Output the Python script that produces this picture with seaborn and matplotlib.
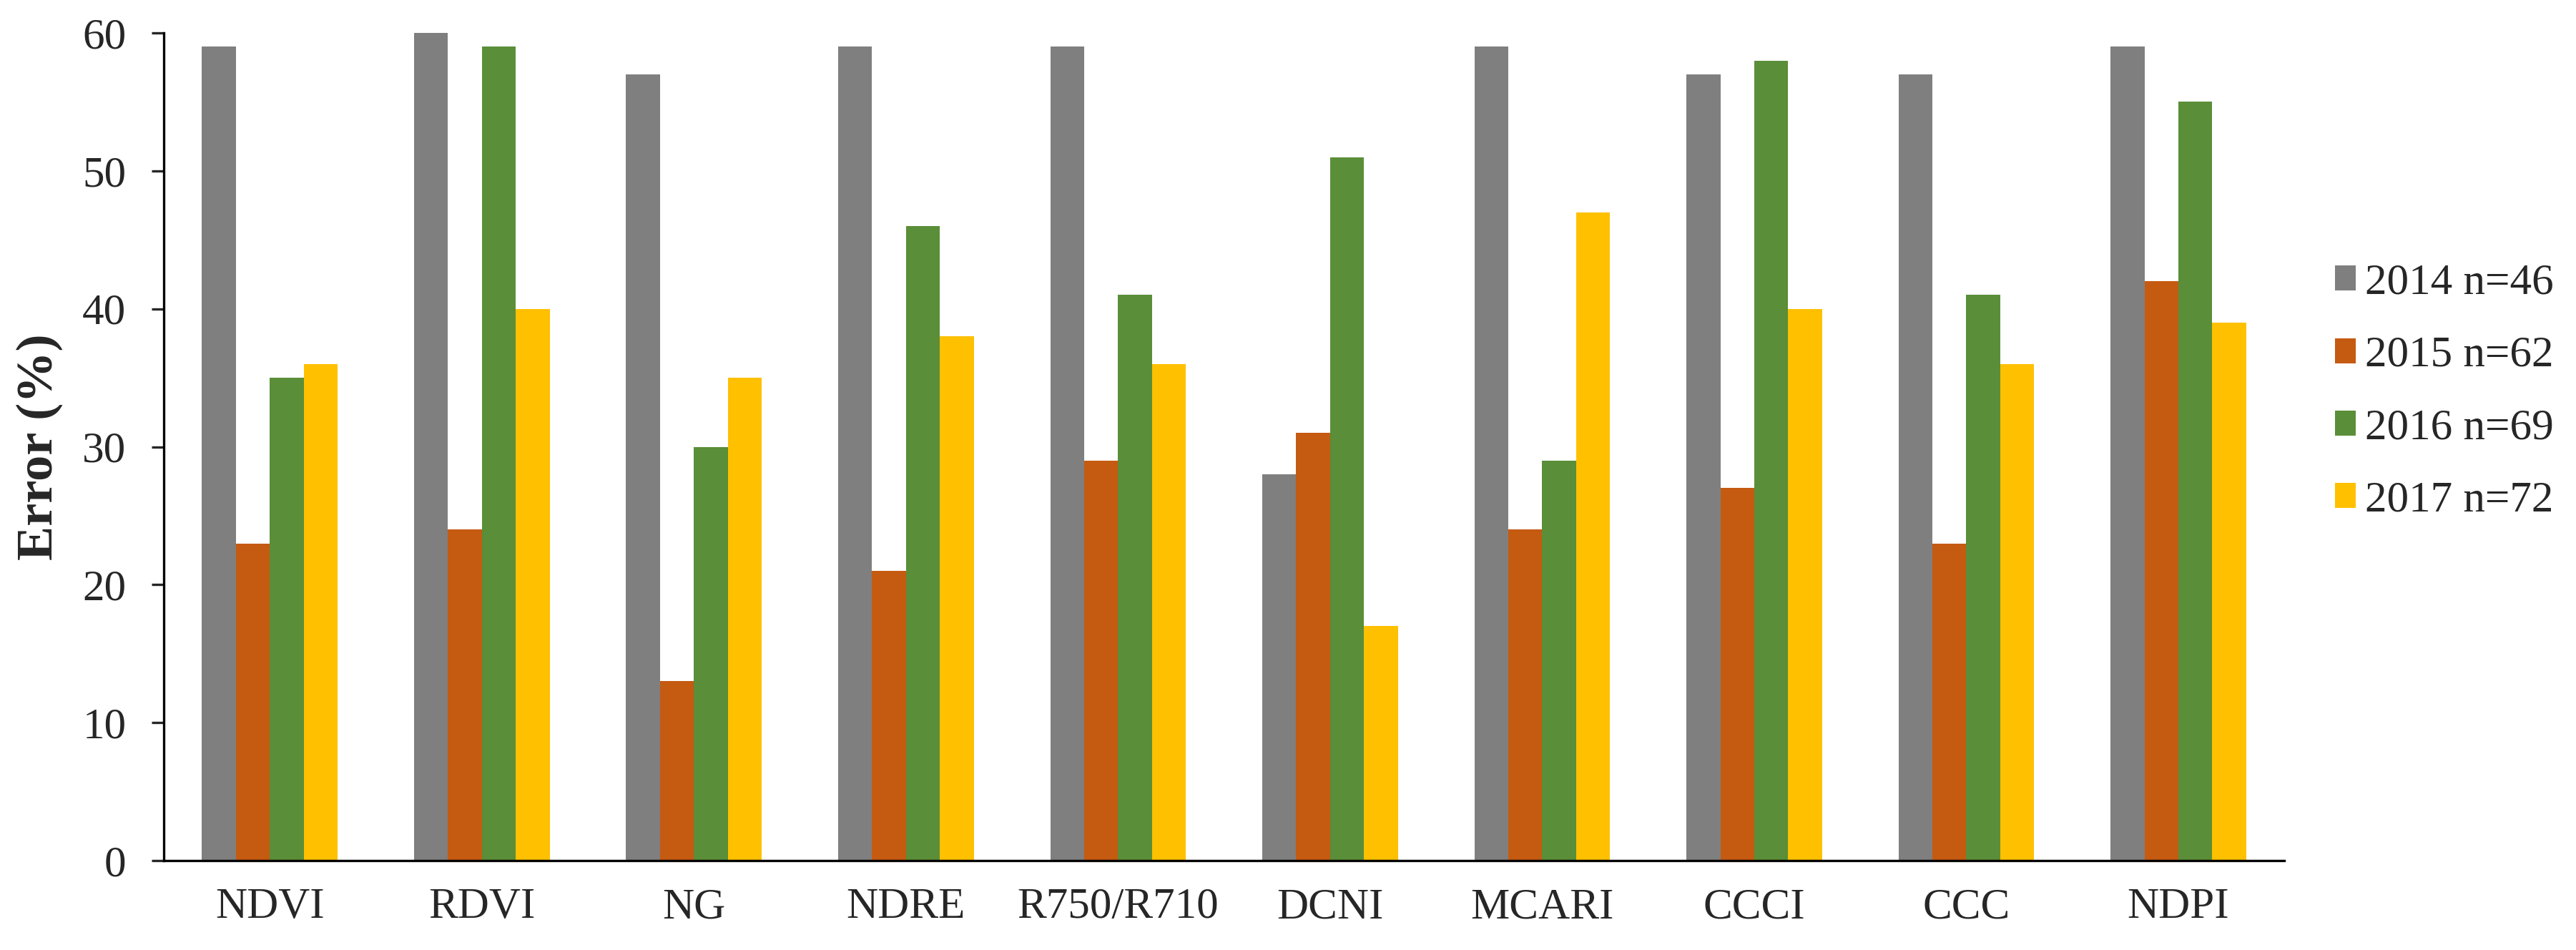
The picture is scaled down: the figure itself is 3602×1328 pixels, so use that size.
import pandas as pd
import numpy as np
import matplotlib
matplotlib.use("Agg")
import matplotlib.pyplot as plt
import seaborn as sns

# Datos
indices = ['NDVI', 'RDVI', 'NG', 'NDRE', 'R750/R710', 'DCNI', 'MCARI', 'CCCI', 'CCC', 'NDPI']
series = ['2014 n=46', '2015 n=62', '2016 n=69', '2017 n=72']
err_2014 = [59, 60, 57, 59, 59, 28, 59, 57, 57, 59]
err_2015 = [23, 24, 13, 21, 29, 31, 24, 27, 23, 42]
err_2016 = [35, 59, 30, 46, 41, 51, 29, 58, 41, 55]
err_2017 = [36, 40, 35, 38, 36, 17, 47, 40, 36, 39]
colores = ['#7F7F7F', '#C55A11', '#5A8E38', '#FFC000']

# Tabla larga para seaborn
df = pd.DataFrame({
    'indice': indices * 4,
    'serie': np.repeat(series, len(indices)),
    'error': err_2014 + err_2015 + err_2016 + err_2017,
})

sns.set_style('ticks')
plt.rcParams['font.family'] = ['Liberation Serif', 'DejaVu Serif']

fig = plt.figure(figsize=(36.02, 13.28), dpi=100)
ax = fig.add_axes([0.0636, 0.0941, 0.8232, 0.8712])

sns.barplot(data=df, x='indice', y='error', hue='serie', palette=colores,
            width=0.64, saturation=1, ax=ax, errorbar=None, linewidth=0)

ax.set_ylim(0, 60)
ax.set_xlim(-0.5, len(indices) - 0.5)
ax.set_yticks(np.arange(0, 61, 10))
ax.set_xlabel('')
ax.set_ylabel('Error (%)', fontsize=52, fontweight='bold', va='center')
ax.yaxis.set_label_coords(-0.0587, 0.5)

for lado in ['top', 'right']:
    ax.spines[lado].set_visible(False)
for lado in ['left', 'bottom']:
    ax.spines[lado].set_linewidth(2.4)
    ax.spines[lado].set_color('black')

ax.tick_params(axis='y', labelsize=44, length=12, width=2.4, pad=26, direction='out')
ax.tick_params(axis='x', labelsize=44, length=0, pad=27)

ax.legend(loc='center left', bbox_to_anchor=(0.9064, 0.5875), bbox_transform=fig.transFigure,
          frameon=False, fontsize=44, handlelength=0.48, handleheight=0.5,
          handletextpad=0.21, labelspacing=0.75, borderpad=0, borderaxespad=0,
          title=None)

plt.savefig('out.png', dpi=100)
plt.close()
